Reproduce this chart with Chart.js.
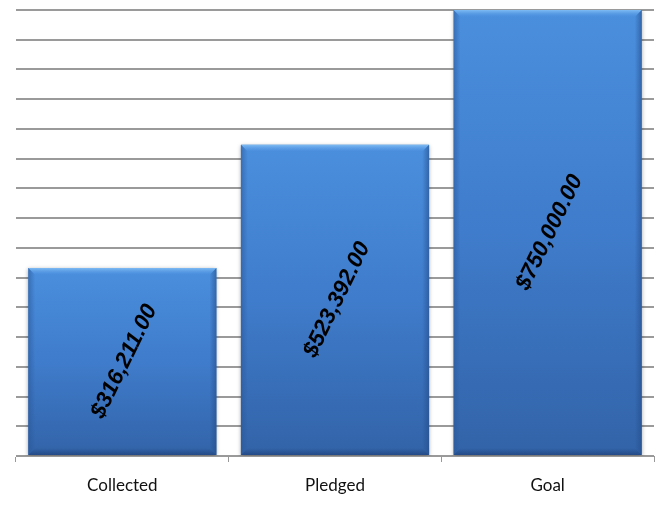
<!DOCTYPE html>
<html>
<head>
<meta charset="utf-8">
<script src="https://cdn.jsdelivr.net/npm/chart.js@4.4.1/dist/chart.umd.min.js"></script>
<style>
html,body{margin:0;padding:0;background:#fff;}
#wrap{width:665px;height:507px;position:relative;}
</style>
</head>
<body>
<div id="wrap"><canvas id="c" width="665" height="507"></canvas></div>
<script>
const categories = ["Collected", "Pledged", "Goal"];
const amounts = [316211, 523392, 750000];
const yMax = 750000;
const yStep = 50000;

function money(v){
  return "$" + v.toLocaleString("en-US",{minimumFractionDigits:2, maximumFractionDigits:2});
}

const barBevel = {
  id: 'barBevel',
  afterDatasetDraw(chart, args) {
    const ctx = chart.ctx;
    const meta = args.meta;
    meta.data.forEach(bar => {
      const l = bar.x - bar.width/2, r = bar.x + bar.width/2, t = bar.y, b = bar.base;
      const bv = 7;
      ctx.save();
      let g = ctx.createLinearGradient(0, t, 0, t+bv);
      g.addColorStop(0, 'rgba(130,190,245,0.95)');
      g.addColorStop(1, 'rgba(90,155,230,0.0)');
      ctx.fillStyle = g;
      ctx.beginPath();
      ctx.moveTo(l, t); ctx.lineTo(r, t); ctx.lineTo(r-bv, t+bv); ctx.lineTo(l+bv, t+bv); ctx.closePath();
      ctx.fill();
      g = ctx.createLinearGradient(l, 0, l+bv, 0);
      g.addColorStop(0, 'rgba(40,85,150,0.55)');
      g.addColorStop(1, 'rgba(40,85,150,0)');
      ctx.fillStyle = g;
      ctx.beginPath();
      ctx.moveTo(l, t); ctx.lineTo(l+bv, t+bv); ctx.lineTo(l+bv, b-bv); ctx.lineTo(l, b); ctx.closePath();
      ctx.fill();
      g = ctx.createLinearGradient(r, 0, r-bv, 0);
      g.addColorStop(0, 'rgba(35,75,135,0.6)');
      g.addColorStop(1, 'rgba(35,75,135,0)');
      ctx.fillStyle = g;
      ctx.beginPath();
      ctx.moveTo(r, t); ctx.lineTo(r-bv, t+bv); ctx.lineTo(r-bv, b-bv); ctx.lineTo(r, b); ctx.closePath();
      ctx.fill();
      g = ctx.createLinearGradient(0, b, 0, b-bv);
      g.addColorStop(0, 'rgba(30,65,120,0.7)');
      g.addColorStop(1, 'rgba(30,65,120,0)');
      ctx.fillStyle = g;
      ctx.beginPath();
      ctx.moveTo(l, b); ctx.lineTo(r, b); ctx.lineTo(r-bv, b-bv); ctx.lineTo(l+bv, b-bv); ctx.closePath();
      ctx.fill();
      ctx.restore();
    });
  }
};

const barLabels = {
  id: 'barLabels',
  afterDatasetsDraw(chart) {
    const ctx = chart.ctx;
    const meta = chart.getDatasetMeta(0);
    meta.data.forEach((bar, i) => {
      const cx = bar.x + 2, cy = (bar.y + bar.base) / 2;
      ctx.save();
      ctx.translate(cx, cy);
      ctx.rotate(-64 * Math.PI / 180);
      ctx.font = 'italic bold 22.5px "Liberation Sans", Arial, sans-serif';
      ctx.fillStyle = '#000';
      ctx.textAlign = 'center';
      ctx.textBaseline = 'middle';
      ctx.fillText(money(chart.data.datasets[0].data[i]), 0, 0);
      ctx.restore();
    });
  }
};

const barShadow = {
  id: 'barShadow',
  beforeDatasetDraw(chart) {
    const ctx = chart.ctx;
    ctx.save();
    ctx.shadowColor = 'rgba(0,0,0,0.35)';
    ctx.shadowBlur = 4;
    ctx.shadowOffsetX = 0;
    ctx.shadowOffsetY = 1;
  },
  afterDatasetDraw(chart) {
    chart.ctx.restore();
  }
};

new Chart(document.getElementById('c'), {
  type: 'bar',
  data: {
    labels: categories,
    datasets: [{
      data: amounts,
      backgroundColor(context) {
        const chart = context.chart;
        if (!chart.chartArea) return '#3d7cc9';
        const y = chart.scales.y;
        const top = y.getPixelForValue(context.raw);
        const bot = y.getPixelForValue(0);
        const g = chart.ctx.createLinearGradient(0, top, 0, bot);
        g.addColorStop(0, '#4a8fdd');
        g.addColorStop(0.5, '#3f7ccb');
        g.addColorStop(1, '#3263a8');
        return g;
      },
      borderWidth: 0,
      categoryPercentage: 0.885,
      barPercentage: 1.0
    }]
  },
  options: {
    responsive: false,
    animation: false,
    devicePixelRatio: 1,
    layout: { padding: { left: 16, right: 11, top: 10, bottom: 0 } },
    plugins: { legend: { display: false }, tooltip: { enabled: false } },
    scales: {
      x: {
        afterFit(scale) { scale.height = 51; },
        grid: { display: true, drawOnChartArea: false, offset: true, color: '#999', tickLength: 6, lineWidth: 1 },
        border: { display: true, color: '#999', width: 1 },
        ticks: { color: '#111', font: { family: 'Lato, "Liberation Sans", sans-serif', size: 17 }, padding: 13 }
      },
      y: {
        min: 0, max: yMax,
        grid: { color: '#9a9a9a', lineWidth: 2, drawTicks: false },
        border: { display: false },
        ticks: { display: false, stepSize: yStep }
      }
    }
  },
  plugins: [barShadow, barBevel, barLabels]
});
</script>
</body>
</html>
